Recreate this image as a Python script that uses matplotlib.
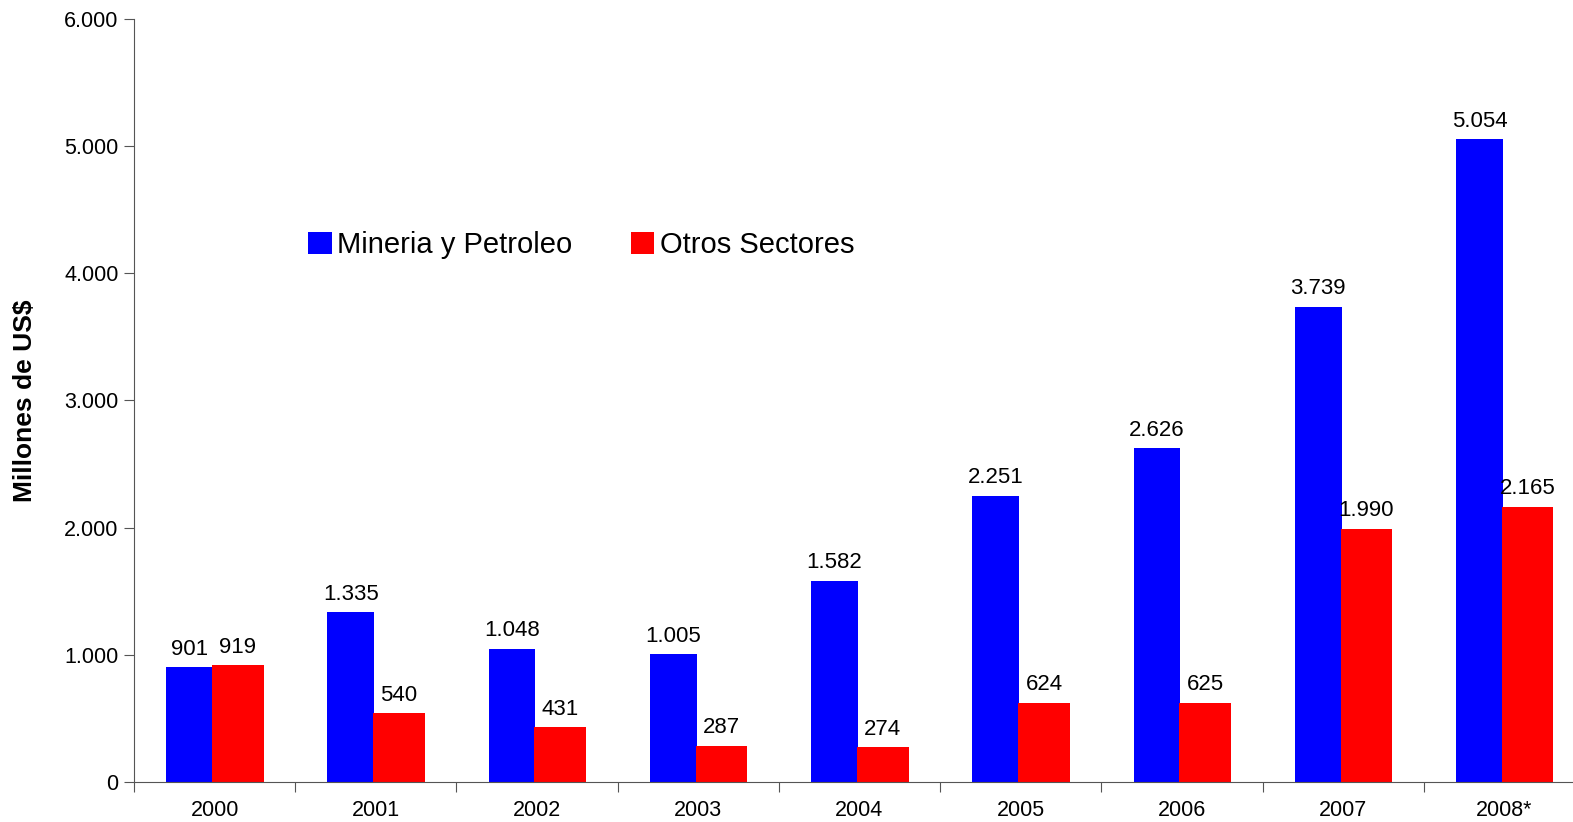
import matplotlib.pyplot as plt
from matplotlib.ticker import FixedLocator, FuncFormatter
import numpy as np

years = ["2000", "2001", "2002", "2003", "2004", "2005", "2006", "2007", "2008*"]
mineria = [901, 1335, 1048, 1005, 1582, 2251, 2626, 3739, 5054]
otros = [919, 540, 431, 287, 274, 624, 625, 1990, 2165]


def miles(v):
    # 1234 -> "1.234"
    return f"{int(v):,}".replace(",", ".")


plt.rcParams["font.family"] = ["Liberation Sans", "DejaVu Sans"]

fig = plt.figure(figsize=(15.73, 8.22), dpi=100)
# axes runs a bit past the right edge, as in the original
ax = fig.add_axes([134 / 1573, 40 / 822, 1451 / 1573, 763 / 822])

x = np.arange(len(years))
b1 = ax.bar(x - 0.30, mineria, width=0.29, align="edge", color="#0000FF",
            label="Mineria y Petroleo")
b2 = ax.bar(x - 0.016, otros, width=0.32, align="edge", color="#FF0000",
            label="Otros Sectores")

for bars, vals in [(b1, mineria), (b2, otros)]:
    for r, v in zip(bars, vals):
        ax.annotate(miles(v), (r.get_x() + r.get_width() / 2, v),
                    xytext=(0, 9), textcoords="offset points",
                    ha="center", va="baseline", fontsize=16)

ax.set_xlim(-0.5, len(years) - 0.5)
ax.set_ylim(0, 6000)
ax.set_yticks(range(0, 6001, 1000))
ax.yaxis.set_major_formatter(FuncFormatter(lambda v, p: miles(v)))

# ticks between categories, labels at centres
ax.xaxis.set_major_locator(FixedLocator(np.arange(-0.5, len(years), 1.0)))
ax.xaxis.set_major_formatter(FuncFormatter(lambda v, p: ""))
ax.xaxis.set_minor_locator(FixedLocator(x))
ax.set_xticklabels(years, minor=True)
ax.tick_params(axis="x", which="minor", length=0, labelsize=15.5, pad=13)
ax.tick_params(axis="x", which="major", length=7, color="#555555")
ax.tick_params(axis="y", length=7, color="#555555", labelsize=15.5, pad=4)

for s in ["top", "right"]:
    ax.spines[s].set_visible(False)
for s in ["left", "bottom"]:
    ax.spines[s].set_color("#555555")

ax.set_ylabel("Millones de US$", fontsize=19, fontweight="bold", labelpad=20)

ax.legend(loc="center left", bbox_to_anchor=(0.112, 0.704), ncol=2,
          frameon=False, fontsize=21, handlelength=0.8, handleheight=0.8,
          handletextpad=0.2, columnspacing=2.0, borderaxespad=0)

fig.savefig("out.png", dpi=100)
